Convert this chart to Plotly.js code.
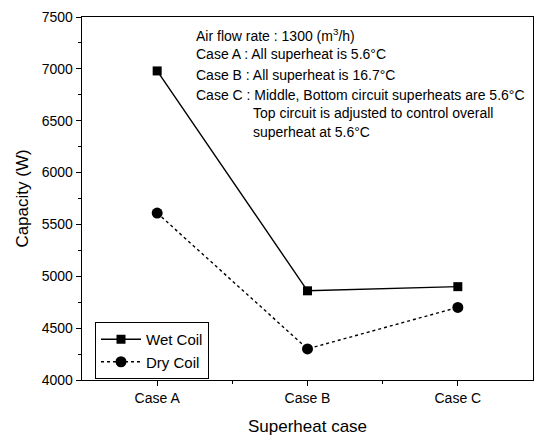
<!DOCTYPE html>
<html><head><meta charset="utf-8">
<script src="https://cdn.plot.ly/plotly-3.0.1.min.js"></script>
<style>html,body{margin:0;padding:0;background:#fff}#c{width:535px;height:436px}</style>
</head><body><div id="c"></div>
<script>
const categories = ["Case A", "Case B", "Case C"];
const wetCoil = [6980, 4860, 4900];
const dryCoil = [5610, 4300, 4700];
const yTicks = [4000, 4500, 5000, 5500, 6000, 6500, 7000, 7500];
const noteLines = [
  "Air flow rate : 1300 (m<sup>3</sup>/h)",
  "Case A : All superheat is 5.6°C",
  "Case B : All superheat is 16.7°C",
  "Case C : Middle, Bottom circuit superheats are 5.6°C",
  "Top circuit is adjusted to control overall",
  "superheat at 5.6°C"
];
const idx = categories.map((c, i) => i);
const F = "Liberation Sans, Arial, sans-serif";
const traces = [
  {x: idx, y: wetCoil, name: "Wet Coil", mode: "lines+markers",
   line: {color: "#000", width: 1.4, dash: "solid"},
   marker: {symbol: "square", size: 9, color: "#000"}},
  {x: idx, y: dryCoil, name: "Dry Coil", mode: "lines+markers",
   line: {color: "#000", width: 1.4, dash: "dot"},
   marker: {symbol: "circle", size: 11, color: "#000"}}
];
const notePos = [[194, 35], [194, 54], [194, 75], [194, 95], [251, 113], [251, 132]];
const plotL = 82, plotT = 17, plotW = 451, plotH = 363;
const annotations = noteLines.map((t, i) => ({
  text: t, xref: "paper", yref: "paper",
  x: (notePos[i][0] - plotL) / plotW, y: 1 - (notePos[i][1] - plotT) / plotH,
  xanchor: "left", yanchor: "middle", showarrow: false,
  font: {family: F, size: 14, color: "#000"}
}));
const layout = {
  width: 535, height: 436,
  margin: {l: plotL, r: 535 - plotL - plotW, t: plotT, b: 436 - plotT - plotH},
  paper_bgcolor: "#fff", plot_bgcolor: "#fff",
  font: {family: F, color: "#000"},
  showlegend: true,
  legend: {x: (95 - plotL) / plotW, y: 1 - (322 - plotT) / plotH, xanchor: "left", yanchor: "top",
           bordercolor: "#000", borderwidth: 1, bgcolor: "#fff", itemwidth: 40,
           font: {family: F, size: 15, color: "#000"}, tracegroupgap: 0},
  xaxis: {range: [-0.5, 2.5], tickmode: "array", tickvals: idx, ticktext: categories,
          showgrid: false, zeroline: false, showline: true, linecolor: "#000", linewidth: 1.4,
          mirror: true, ticks: "outside", ticklen: 5, tickcolor: "#000",
          minor: {tickmode: "array", tickvals: [0.5, 1.5], ticks: "outside", ticklen: 3, tickcolor: "#000"},
          tickfont: {family: F, size: 14, color: "#000"},
          title: {text: "Superheat case", font: {family: F, size: 17, color: "#000"}, standoff: 15}},
  yaxis: {range: [4000, 7500], tickmode: "array", tickvals: yTicks,
          showgrid: false, zeroline: false, showline: true, linecolor: "#000", linewidth: 1.4,
          mirror: true, ticks: "outside", ticklen: 5, tickcolor: "#000",
          minor: {dtick: 250, ticks: "outside", ticklen: 3, tickcolor: "#000"},
          tickfont: {family: F, size: 14, color: "#000"},
          title: {text: "Capacity (W)", font: {family: F, size: 17, color: "#000"}, standoff: 8}},
  annotations: annotations
};
Plotly.newPlot("c", traces, layout, {displayModeBar: false, staticPlot: true});
</script></body></html>
